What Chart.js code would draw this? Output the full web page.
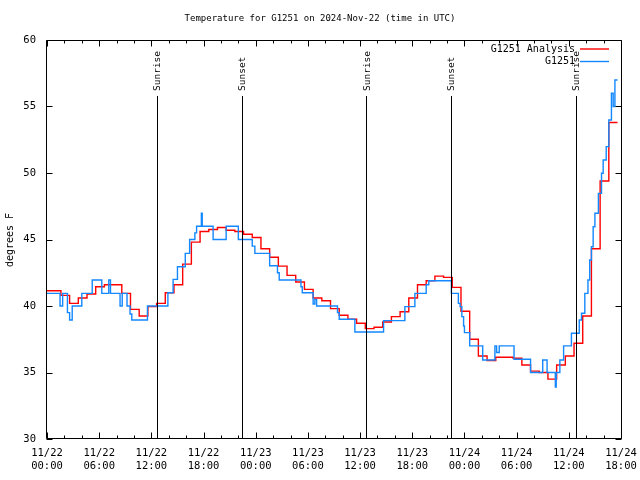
<!DOCTYPE html>
<html>
<head>
<meta charset="utf-8">
<script src="https://cdn.jsdelivr.net/npm/chart.js@4"></script>
<style>
  html, body { margin: 0; padding: 0; background: #fff; }
  canvas { display: block; }
</style>
</head>
<body>
<canvas id="temp-chart" width="640" height="480"></canvas>
<script>
const station = 'G1251'
const startDate = Date.UTC(2024, 10, 22, 0, 0)

// hourly analysis, first value holds from 00:00, the next ones start at hh:36
const analysisTemps = [
  41.15, 41.15, 40.8, 40.2, 40.6, 40.9, 41.45, 41.6, 41.6, 40.95, 39.75,
  39.25, 39.95, 40.2, 41.0, 41.6, 43.15, 44.8, 45.6, 45.75, 45.9,
  45.7, 45.6, 45.4, 45.15, 44.3, 43.66, 43.0, 42.3, 41.8, 41.25,
  40.6, 40.4, 39.8, 39.3, 39.0, 38.7, 38.3, 38.4, 38.8, 39.2,
  39.57, 40.6, 41.6, 41.9, 42.25, 42.15, 41.4, 39.6, 37.5, 36.24,
  35.9, 36.15, 36.15, 36.07, 35.56, 35.1, 35.0, 34.5, 35.56, 36.24,
  37.2, 39.25, 44.3, 49.4, 53.8, 53.8
]
const analysisHours = analysisTemps.map((_, i) => i === 0 ? 0 : i - 0.4)

// station obs, hours since 11/22 00:00 UTC
const obsHours = [
  0, 1.5, 1.8, 2.35, 2.6, 2.9, 4.0, 5.2, 6.3, 7.1, 7.3, 8.4, 8.65, 9.2, 9.55, 9.75,
  11.55, 13.9, 14.5, 15.0, 15.9, 16.4, 17.0, 17.2, 17.75, 17.85, 19.1, 20.6, 22.0,
  23.6, 23.9, 25.6, 26.5, 26.7, 29.2, 29.35, 30.6, 30.8, 31.0, 33.4, 33.6, 35.4,
  38.7, 41.15, 42.3, 43.6, 43.9, 46.5, 47.3, 47.5, 47.7, 47.9, 48.0, 48.6, 50.1,
  51.5, 51.7, 52.0, 53.7, 55.6, 57.0, 57.5, 58.45, 58.55, 58.97, 59.4, 60.3, 61.2,
  61.46, 61.84, 62.2, 62.4, 62.6, 62.8, 63.0, 63.4, 63.76, 63.95, 64.3, 64.6, 64.9,
  65.1, 65.3, 65.6
]
const obsTemps = [
  40.95, 40.0, 40.95, 39.5, 38.95, 40.0, 40.95, 41.95, 40.95, 41.95, 40.95, 40.0, 40.95, 40.0, 39.4, 38.95,
  40.0, 41.0, 42.0, 42.95, 43.96, 45.0, 45.5, 46.0, 46.97, 46.0, 45.0, 46.0, 45.0,
  44.5, 43.96, 43.03, 42.5, 41.95, 41.45, 41.0, 40.15, 40.5, 40.0, 39.5, 39.0, 38.05,
  38.9, 39.95, 40.95, 41.6, 41.9, 40.95, 40.2, 39.95, 39.2, 38.5, 38.0, 37.0, 35.94,
  37.0, 36.5, 37.0, 36.0, 35.0, 35.94, 35.0, 33.9, 35.0, 35.94, 37.0, 37.95, 38.95,
  39.45, 40.95, 41.95, 43.46, 44.46, 45.96, 46.97, 48.47, 49.98, 50.98, 51.98, 53.98, 56.0,
  55.0, 56.99, 56.99
]

const sunHours = [12.65, 22.4, 36.7, 46.4, 60.8]
const sunLabels = ['Sunrise', 'Sunset', 'Sunrise', 'Sunset', 'Sunrise']

const FONT_FAMILY = 'DejaVu Sans Mono'

function pad2(n) {
  return String(n).padStart(2, '0')
}

function tickLabel(h) {
  var d = new Date(startDate + h * 3600000)
  return [pad2(d.getUTCMonth() + 1) + '/' + pad2(d.getUTCDate()), pad2(d.getUTCHours()) + ':' + pad2(d.getUTCMinutes())]
}

const framePlugin = {
  id: 'frame',
  beforeDraw(chart) {
    const ctx = chart.ctx
    ctx.save()
    ctx.fillStyle = '#fff'
    ctx.fillRect(0, 0, chart.width, chart.height)
    ctx.restore()
  },
  afterDatasetsDraw(chart) {
    const { ctx, chartArea: a, scales: { x, y } } = chart
    const L = Math.round(a.left) - 0.5, R = Math.round(a.right) + 0.5
    const T = Math.round(a.top) + 0.5, B = Math.round(a.bottom) - 0.5
    ctx.save()
    ctx.strokeStyle = '#000'
    ctx.lineWidth = 1
    ctx.beginPath()
    ctx.rect(L, T, R - L, B - T)

    // ticks pointing inwards, mirrored on top and right
    for (let h = x.min; h <= x.max; h += 2) {
      const px = Math.round(x.getPixelForValue(h)) + 0.5
      const len = h % 6 === 0 ? 6 : 3
      ctx.moveTo(px, B); ctx.lineTo(px, B - len)
      ctx.moveTo(px, T); ctx.lineTo(px, T + len)
    }
    for (let v = y.min; v <= y.max; v += 5) {
      const py = Math.round(y.getPixelForValue(v)) + 0.5
      ctx.moveTo(L, py); ctx.lineTo(L + 6, py)
      ctx.moveTo(R, py); ctx.lineTo(R - 6, py)
    }

    // sunrise / sunset markers
    sunHours.forEach(h => {
      const px = Math.round(x.getPixelForValue(h)) + 0.5
      ctx.moveTo(px, 96); ctx.lineTo(px, B)
    })
    ctx.stroke()

    ctx.fillStyle = '#000'
    ctx.textBaseline = 'middle'
    ctx.font = '9.5px "' + FONT_FAMILY + '"'
    sunHours.forEach((h, i) => {
      const px = x.getPixelForValue(h)
      ctx.save()
      ctx.translate(px + 1, 91)
      ctx.rotate(-Math.PI / 2)
      ctx.textAlign = 'left'
      ctx.fillText(sunLabels[i], 0, 0)
      ctx.restore()
    })

    // legend, top right
    ctx.font = '10px "' + FONT_FAMILY + '"'
    chart.data.datasets.forEach((ds, i) => {
      const ly = 49 + i * 12.5
      ctx.textAlign = 'right'
      ctx.fillText(ds.label, 575, ly)
      ctx.beginPath()
      ctx.strokeStyle = ds.borderColor
      ctx.lineWidth = 1.4
      ctx.moveTo(580, ly); ctx.lineTo(609, ly)
      ctx.stroke()
    })

    // title and y axis label
    ctx.textAlign = 'center'
    ctx.font = '9px "' + FONT_FAMILY + '"'
    ctx.fillText('Temperature for ' + station + ' on 2024-Nov-22 (time in UTC)', 320, 19)
    ctx.font = '10px "' + FONT_FAMILY + '"'
    ctx.save()
    ctx.translate(10, 240)
    ctx.rotate(-Math.PI / 2)
    ctx.fillText('degrees F', 0, 0)
    ctx.restore()
    ctx.restore()
  }
}

const ctx = document.getElementById('temp-chart')
new Chart(ctx, {
  type: 'line',
  data: {
    datasets: [{
      label: station + ' Analysis',
      data: analysisHours.map((h, i) => ({ x: h, y: analysisTemps[i] })),
      borderColor: '#ff0000',
      borderWidth: 1.4,
      stepped: true,
      pointRadius: 0,
      order: 1
    }, {
      label: station,
      data: obsHours.map((h, i) => ({ x: h, y: obsTemps[i] })),
      borderColor: '#1488ff',
      borderWidth: 1.4,
      stepped: true,
      pointRadius: 0,
      order: 0
    }]
  },
  options: {
    responsive: false,
    animation: false,
    devicePixelRatio: 1,
    layout: { padding: { top: 40, right: 19, left: 0, bottom: 0 } },
    plugins: {
      legend: { display: false },
      title: { display: false },
      tooltip: { enabled: false }
    },
    scales: {
      x: {
        type: 'linear',
        min: 0,
        max: 66,
        grid: { display: false, drawTicks: false },
        border: { display: false },
        ticks: {
          stepSize: 6,
          autoSkip: false,
          maxRotation: 0,
          padding: 8,
          color: '#000',
          font: { family: FONT_FAMILY, size: 10.5, lineHeight: 1.2 },
          callback: v => tickLabel(v)
        },
        afterFit: s => { s.height = 41; s.paddingLeft = 0; s.paddingRight = 0 }
      },
      y: {
        min: 30,
        max: 60,
        grid: { display: false, drawTicks: false },
        border: { display: false },
        ticks: {
          stepSize: 5,
          padding: 11,
          color: '#000',
          font: { family: FONT_FAMILY, size: 10.5 }
        },
        afterFit: s => { s.width = 47; s.paddingTop = 0; s.paddingBottom = 0 }
      }
    }
  },
  plugins: [framePlugin]
})
</script>
</body>
</html>
